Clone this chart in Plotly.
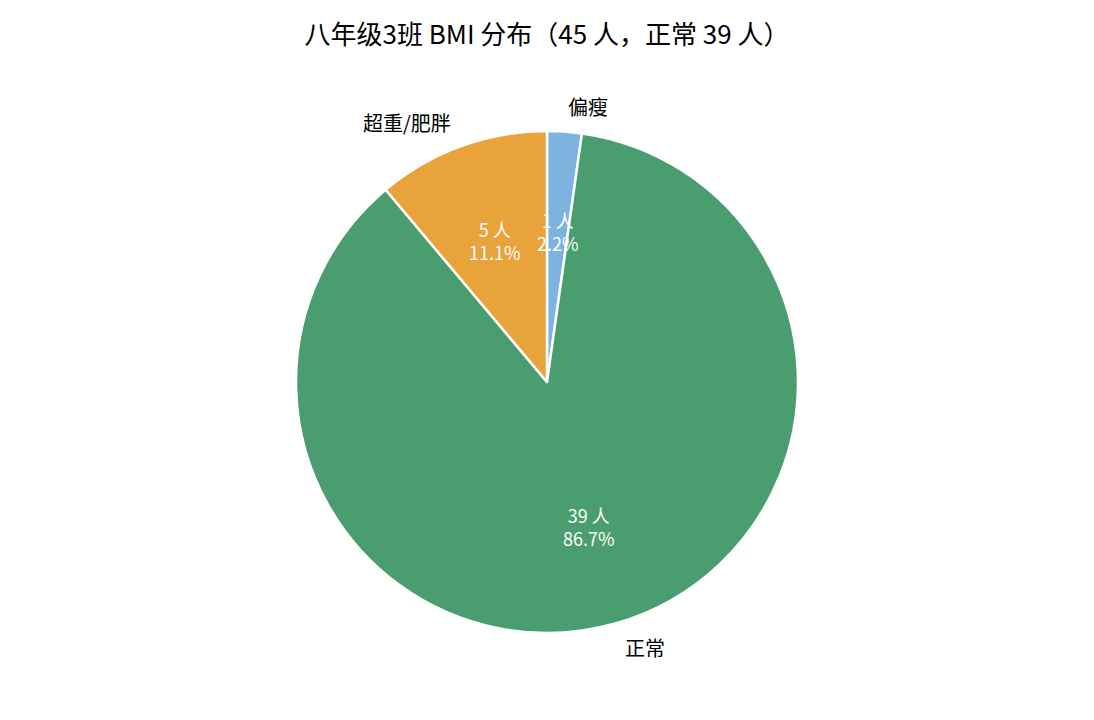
import math
import plotly.graph_objects as go

categories = ["偏瘦", "正常", "超重/肥胖"]
counts = [1, 39, 5]
colors = ["#7EB3E0", "#4A9D6E", "#E8A33A"]
title_text = "八年级3班 BMI 分布（45 人，正常 39 人）"

W, H = 1094, 720
ml, mr = 0, 16
mt, mb = 123, 95
plot_w = W - ml - mr
plot_h = H - mt - mb
R = plot_h / 2.0
FONT = "Noto Sans CJK SC, Microsoft YaHei, sans-serif"

fig = go.Figure(go.Pie(
    labels=categories, values=counts, sort=False, direction="clockwise",
    rotation=0, marker=dict(colors=colors, line=dict(color="white", width=2.5)),
    textinfo="none", hoverinfo="label+value+percent", showlegend=False,
))

total = sum(counts)
cum = 0.0
ann = []
for lab, v in zip(categories, counts):
    a0 = cum / total * 360
    cum += v
    a1 = cum / total * 360
    mid = math.radians((a0 + a1) / 2)
    sx, cy = math.sin(mid), math.cos(mid)
    ann.append(dict(
        x=0.5 + 0.6 * R * sx / plot_w, y=0.5 + 0.6 * R * cy / plot_h,
        xref="paper", yref="paper", showarrow=False,
        text=f"{v} 人<br>{v / total * 100:.1f}%",
        font=dict(family=FONT, size=18, color="white"),
        xanchor="center", yanchor="middle",
    ))
    ann.append(dict(
        x=0.5 + 1.1 * R * sx / plot_w, y=0.5 + 1.1 * R * cy / plot_h,
        xref="paper", yref="paper", showarrow=False, text=lab,
        font=dict(family=FONT, size=20, color="black"),
        xanchor="left" if sx > 0 else "right", yanchor="middle",
    ))

fig.update_layout(
    width=W, height=H,
    margin=dict(l=ml, r=mr, t=mt, b=mb),
    paper_bgcolor="white", plot_bgcolor="white",
    title=dict(text=title_text, x=(ml + plot_w / 2) / W, xanchor="center",
               y=1 - 27 / H, yanchor="middle",
               font=dict(family=FONT, size=26, color="black")),
    annotations=ann,
)
fig.write_html("out.html")
